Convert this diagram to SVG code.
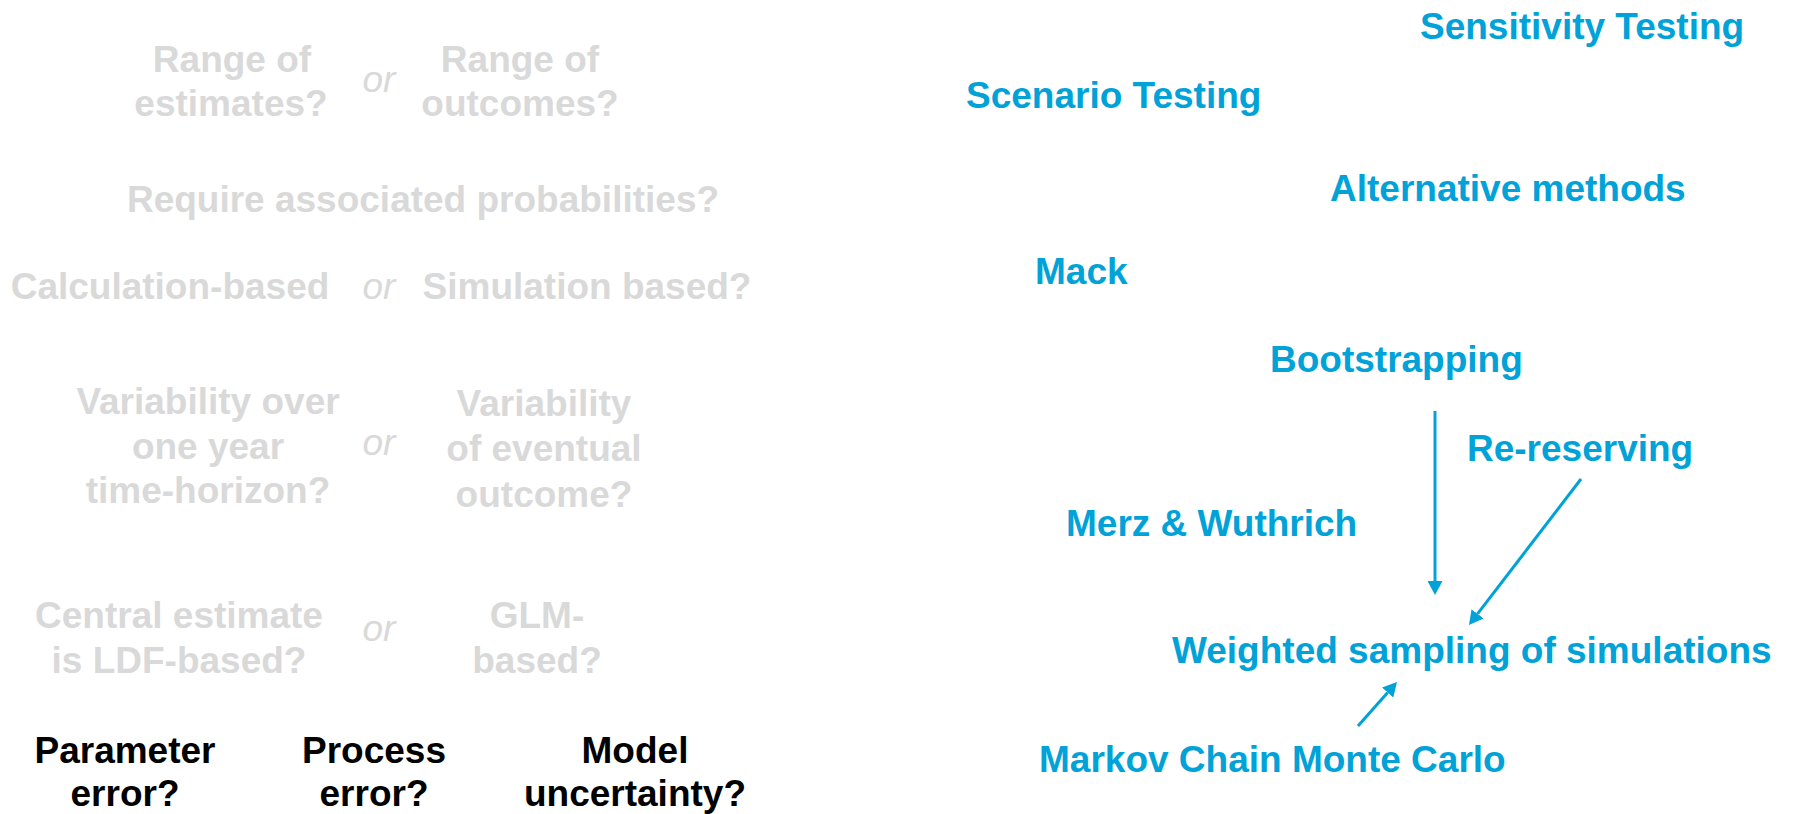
<svg xmlns="http://www.w3.org/2000/svg" width="1793" height="814" viewBox="0 0 1793 814">
  <style>
    text { font-family: "Liberation Sans", Arial, Helvetica, sans-serif; font-size: 37px; }
    .q { fill: #d9d9d9; font-weight: bold; text-anchor: middle; }
    .or { fill: #d9d9d9; font-style: italic; text-anchor: middle; }
    .k { fill: #000000; font-weight: bold; text-anchor: middle; }
    .m { fill: #00a2d8; font-weight: bold; }
    .conn { stroke: #00a2d8; stroke-width: 3; fill: none; marker-end: url(#head); }
  </style>
  <defs>
    <marker id="head" viewBox="0 0 14 15" markerWidth="14" markerHeight="15" markerUnits="userSpaceOnUse" refX="0" refY="7.5" orient="auto">
      <path d="M0,0 L14,7.5 L0,15 z" fill="#00a2d8"/>
    </marker>
  </defs>
  <rect width="1793" height="814" fill="#ffffff"/>

  <!-- questions (left side) -->
  <g id="q-range">
    <text class="q" x="232" y="72">Range of</text>
    <text class="q" x="231" y="116">estimates?</text>
    <text class="or" x="379" y="92">or</text>
    <text class="q" x="520" y="72">Range of</text>
    <text class="q" x="520" y="116">outcomes?</text>
  </g>
  <g id="q-probabilities">
    <text class="q" x="423" y="212">Require associated probabilities?</text>
  </g>
  <g id="q-calc">
    <text class="q" x="170" y="299">Calculation-based</text>
    <text class="or" x="379" y="299">or</text>
    <text class="q" x="587" y="299">Simulation based?</text>
  </g>
  <g id="q-horizon">
    <text class="q" x="208" y="414">Variability over</text>
    <text class="q" x="208" y="459">one year</text>
    <text class="q" x="208" y="503">time-horizon?</text>
    <text class="or" x="379" y="455">or</text>
    <text class="q" x="544" y="416">Variability</text>
    <text class="q" x="544" y="461">of eventual</text>
    <text class="q" x="544" y="507">outcome?</text>
  </g>
  <g id="q-central">
    <text class="q" x="179" y="628">Central estimate</text>
    <text class="q" x="179" y="673">is LDF-based?</text>
    <text class="or" x="379" y="641">or</text>
    <text class="q" x="537" y="628">GLM-</text>
    <text class="q" x="537" y="673">based?</text>
  </g>
  <g id="q-errors">
    <text class="k" x="125" y="763">Parameter</text>
    <text class="k" x="125" y="806">error?</text>
    <text class="k" x="374" y="763">Process</text>
    <text class="k" x="374" y="806">error?</text>
    <text class="k" x="635" y="763">Model</text>
    <text class="k" x="635" y="806">uncertainty?</text>
  </g>

  <!-- methods (right side) -->
  <g id="sensitivity"><text class="m" x="1420" y="39">Sensitivity Testing</text></g>
  <g id="scenario"><text class="m" x="966" y="108">Scenario Testing</text></g>
  <g id="alternative"><text class="m" x="1330" y="201">Alternative methods</text></g>
  <g id="mack"><text class="m" x="1035" y="284">Mack</text></g>
  <g id="bootstrapping"><text class="m" x="1270" y="372">Bootstrapping</text></g>
  <g id="rereserving"><text class="m" x="1467" y="461">Re-reserving</text></g>
  <g id="merz"><text class="m" x="1066" y="536">Merz &amp; Wuthrich</text></g>
  <g id="weighted"><text class="m" x="1172" y="663">Weighted sampling of simulations</text></g>
  <g id="mcmc"><text class="m" x="1039" y="772">Markov Chain Monte Carlo</text></g>

  <!-- connectors -->
  <g id="connectors">
    <line class="conn" x1="1435" y1="411" x2="1435" y2="581"/>
    <line class="conn" x1="1581" y1="479" x2="1477.5" y2="613.9"/>
    <line class="conn" x1="1358" y1="726" x2="1387.7" y2="692.5"/>
  </g>
</svg>
